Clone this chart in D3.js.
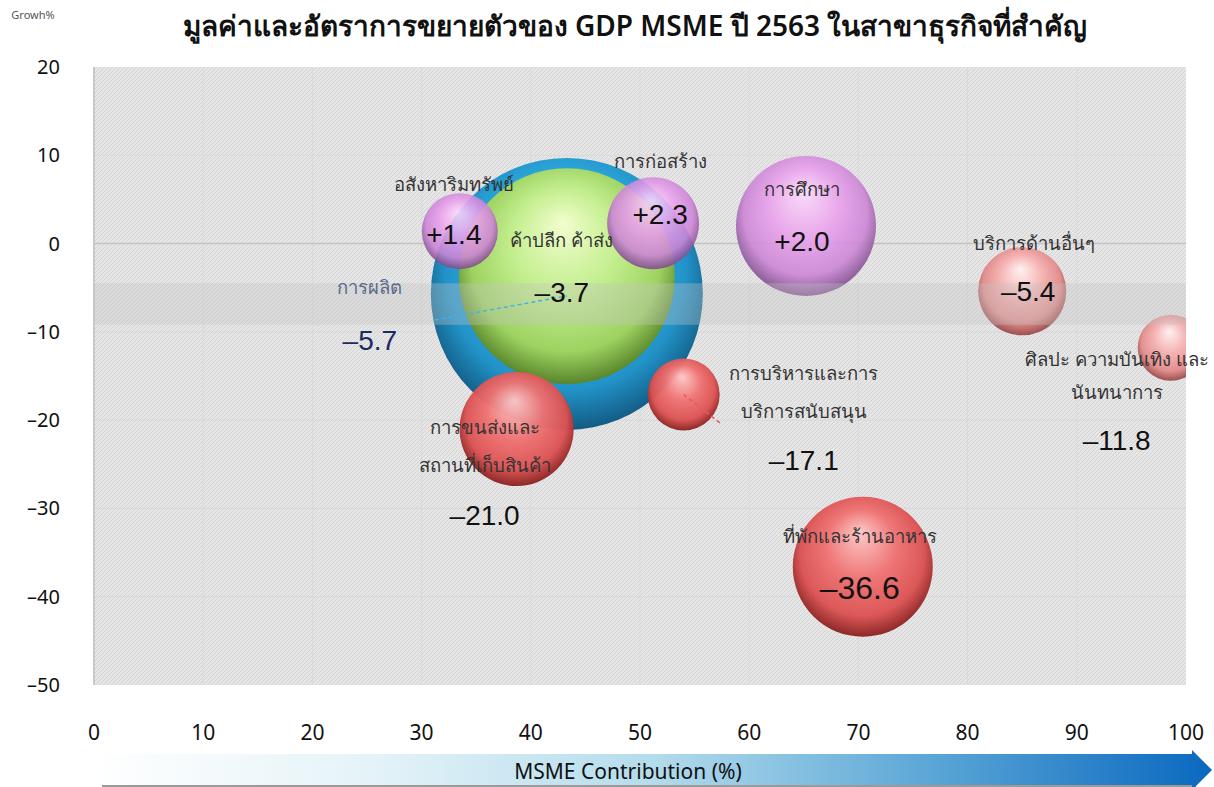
<!DOCTYPE html>
<html>
<head>
<meta charset="utf-8">
<script src="https://cdn.jsdelivr.net/npm/d3@7"></script>
<style>
  body { margin: 0; background: #fff; }
  svg { display: block; font-family: "Noto Sans", "Lato", sans-serif; }
</style>
</head>
<body>
<svg id="chart" width="1214" height="787"></svg>
<script>
// sectors (Thai names, label lines)
const sectors = [
  ["การผลิต"],
  ["ค้าปลีก ค้าส่ง"],
  ["อสังหาริมทรัพย์"],
  ["การก่อสร้าง"],
  ["การศึกษา"],
  ["บริการด้านอื่นๆ"],
  ["ศิลปะ ความบันเทิง และ", "นันทนาการ"],
  ["การบริหารและการ", "บริการสนับสนุน"],
  ["การขนส่งและ", "สถานที่เก็บสินค้า"],
  ["ที่พักและร้านอาหาร"]
];
// MSME contribution (%) - x
const contribution = [43.3, 43.3, 33.5, 51.2, 65.2, 85.0, 98.6, 54.0, 38.7, 70.4];
// growth (%) - y
const growth = [-5.7, -3.7, 1.4, 2.3, 2.0, -5.4, -11.8, -17.1, -21.0, -36.6];
// relative GDP size (bubble area, estimated)
const gdpSize = [100, 63, 7.8, 11.4, 26.5, 10.5, 5.9, 7.0, 17.6, 26.5];
// colour group per sector
const colourGroup = ["blue", "green", "violet", "violet", "violet", "pink", "pink", "red", "red", "red"];

const xTicks = [0, 10, 20, 30, 40, 50, 60, 70, 80, 90, 100];
const yTicks = [20, 10, 0, -10, -20, -30, -40, -50];
const averageBand = [-4.5, -9.2];

const title = "มูลค่าและอัตราการขยายตัวของ GDP MSME ปี 2563 ในสาขาธุรกิจที่สำคัญ";

// label layout (pixel offsets from bubble centre) — name line offsets and value offset
const labelLayout = [
  { dx: -197, name: [-6], value: 46, nameColor: "#5b6a8c", valueColor: "#1b2b62" },
  { dx: -5, name: [-36], value: 16 },
  { dx: -6, name: [-47], value: 3 },
  { dx: 7, name: [-62], value: -9 },
  { dx: -4, name: [-36], value: 15 },
  { dx: 12, name: [-48], value: 0, valueDx: -6 },
  { dx: -54, name: [12, 45], value: 92 },
  { dx: 120, name: [-21, 17], value: 65 },
  { dx: -32, name: [-1, 37], value: 86 },
  { dx: -3, name: [-30], value: 21, big: true }
];

const svg = d3.select("#chart");
const x = d3.scaleLinear().domain([0, 100]).range([94, 1186]);
const y = d3.scaleLinear().domain([-50, 20]).range([685, 67]);
const r = d3.scaleSqrt().domain([0, d3.max(gdpSize)]).range([0, 136]);

const defs = svg.append("defs");

const hatch = defs.append("pattern")
  .attr("id", "hatch").attr("patternUnits", "userSpaceOnUse")
  .attr("width", 4).attr("height", 4);
hatch.append("rect").attr("width", 4).attr("height", 4).attr("fill", "#e6e6e6");
hatch.append("path").attr("d", "M-1,1 l2,-2 M0,4 l4,-4 M3,5 l2,-2")
  .attr("stroke", "#d3d3d3").attr("stroke-width", 1);

defs.append("clipPath").attr("id", "plotClip")
  .append("rect")
  .attr("x", x(0)).attr("y", y(20))
  .attr("width", x(100) - x(0)).attr("height", y(-50) - y(20));

const palettes = {
  blue:   ["#86dcf8", "#2cb0e4", "#1a90c8", "#0a5680"],
  green:  ["#f6ffcc", "#c8f08a", "#a2d45c", "#5a8424"],
  violet: ["#fcdcfc", "#eaa0ec", "#cc84d6", "#7c4a8a"],
  pink:   ["#fff2f2", "#f6b0b0", "#e28c8c", "#9a4a4a"],
  red:    ["#ffc8c8", "#ef7272", "#dc5252", "#8a2020"]
};
Object.entries(palettes).forEach(([key, c]) => {
  const g = defs.append("radialGradient")
    .attr("id", "grad-" + key)
    .attr("cx", "50%").attr("cy", "45%").attr("r", "55%")
    .attr("fx", "48%").attr("fy", "25%");
  g.append("stop").attr("offset", "0%").attr("stop-color", c[0]);
  g.append("stop").attr("offset", "45%").attr("stop-color", c[1]);
  g.append("stop").attr("offset", "80%").attr("stop-color", c[2]);
  g.append("stop").attr("offset", "100%").attr("stop-color", c[3]);
});

const arrowGrad = defs.append("linearGradient").attr("id", "arrowGrad");
[["0%", "#ffffff"], ["25%", "#e4f3f8"], ["50%", "#b4dcec"], ["75%", "#5aa6d6"], ["100%", "#0a68bf"]]
  .forEach(([o, c]) => arrowGrad.append("stop").attr("offset", o).attr("stop-color", c));

// plot background
svg.append("rect")
  .attr("x", x(0)).attr("y", y(20))
  .attr("width", x(100) - x(0)).attr("height", y(-50) - y(20))
  .attr("fill", "url(#hatch)");

// grid
svg.append("g").selectAll("line").data(xTicks.slice(1, -1)).join("line")
  .attr("x1", d => x(d)).attr("x2", d => x(d))
  .attr("y1", y(20)).attr("y2", y(-50))
  .attr("stroke", "#d9d9d9").attr("stroke-width", 1);
svg.append("g").selectAll("line").data(yTicks.slice(1, -1)).join("line")
  .attr("x1", x(0)).attr("x2", x(100))
  .attr("y1", d => y(d)).attr("y2", d => y(d))
  .attr("stroke", d => d === 0 ? "#c4c4c4" : "#d9d9d9")
  .attr("stroke-width", d => d === 0 ? 1.5 : 1);
svg.append("line")
  .attr("x1", x(0)).attr("x2", x(0)).attr("y1", y(20)).attr("y2", y(-50))
  .attr("stroke", "#c8c8c8").attr("stroke-width", 2);

// bubbles
const bubbleData = sectors.map((s, i) => ({
  name: s, cx: x(contribution[i]), cy: y(growth[i]), r: r(gdpSize[i]),
  growth: growth[i], group: colourGroup[i], layout: labelLayout[i]
}));

const bubbles = svg.append("g").attr("clip-path", "url(#plotClip)");
bubbles.selectAll("circle").data(bubbleData).join("circle")
  .attr("cx", d => d.cx).attr("cy", d => d.cy).attr("r", d => d.r)
  .attr("fill", d => "url(#grad-" + d.group + ")")
  .attr("opacity", d => d.group === "violet" ? 0.88 : 0.96);

// average band over everything
svg.append("rect")
  .attr("x", x(0)).attr("y", y(averageBand[0]))
  .attr("width", x(100) - x(0)).attr("height", y(averageBand[1]) - y(averageBand[0]))
  .attr("fill", "#c4c4c4").attr("opacity", 0.35);

// leader lines
const manu = bubbleData[0];
svg.append("line")
  .attr("x1", manu.cx - 132).attr("y1", manu.cy + 26)
  .attr("x2", manu.cx).attr("y2", manu.cy + 2)
  .attr("stroke", "#3db4e6").attr("stroke-width", 1.5).attr("stroke-dasharray", "4,3");
const admin = bubbleData[7];
svg.append("line")
  .attr("x1", admin.cx).attr("y1", admin.cy)
  .attr("x2", admin.cx + 37).attr("y2", admin.cy + 29)
  .attr("stroke", "#e85a5a").attr("stroke-width", 1.5).attr("stroke-dasharray", "4,3");

// labels
const fmt = v => (v > 0 ? "+" : "\u2013") + Math.abs(v).toFixed(1);
const labels = svg.append("g").attr("text-anchor", "middle");
bubbleData.forEach(d => {
  const L = d.layout;
  d.name.forEach((line, j) => {
    labels.append("text")
      .attr("x", d.cx + L.dx).attr("y", d.cy + L.name[j])
      .attr("dy", "0.35em")
      .attr("font-size", 18.5)
      .attr("fill", L.nameColor || "#333")
      .text(line);
  });
  labels.append("text")
    .attr("x", d.cx + L.dx + (L.valueDx || 0)).attr("y", d.cy + L.value)
    .attr("dy", "0.36em")
    .attr("font-family", "'Liberation Sans', Arial, sans-serif")
    .attr("font-size", L.big ? 32 : 28)
    .attr("fill", L.valueColor || "#111")
    .text(fmt(d.growth));
});

// axes labels
svg.append("g").selectAll("text").data(yTicks).join("text")
  .attr("x", 60).attr("y", d => y(d)).attr("dy", "0.35em")
  .attr("text-anchor", "end").attr("font-size", 20).attr("fill", "#111")
  .text(d => d < 0 ? "\u2013" + Math.abs(d) : d);
svg.append("g").selectAll("text").data(xTicks).join("text")
  .attr("x", d => x(d)).attr("y", 733).attr("dy", "0.35em")
  .attr("text-anchor", "middle").attr("font-size", 21).attr("fill", "#111")
  .text(d => d);

// title
svg.append("text")
  .attr("x", 635).attr("y", 36).attr("text-anchor", "middle")
  .attr("font-size", 28).attr("font-weight", 600).attr("fill", "#111")
  .text(title);
svg.append("text")
  .attr("x", 33).attr("y", 19).attr("text-anchor", "middle")
  .attr("font-size", 11).attr("fill", "#555")
  .text("Growh%");

// bottom arrow
svg.append("line")
  .attr("x1", 102).attr("x2", 1196).attr("y1", 786).attr("y2", 786)
  .attr("stroke", "#9a9a9a").attr("stroke-width", 2);
svg.append("path")
  .attr("d", "M104,754 L1192,754 L1192,750 L1212,770 L1192,790 L1192,785 L104,785 L92,770 Z")
  .attr("fill", "url(#arrowGrad)");
svg.append("text")
  .attr("x", 628).attr("y", 772).attr("dy", "0.35em").attr("text-anchor", "middle")
  .attr("font-size", 21).attr("fill", "#111")
  .text("MSME Contribution (%)");
</script>
</body>
</html>
